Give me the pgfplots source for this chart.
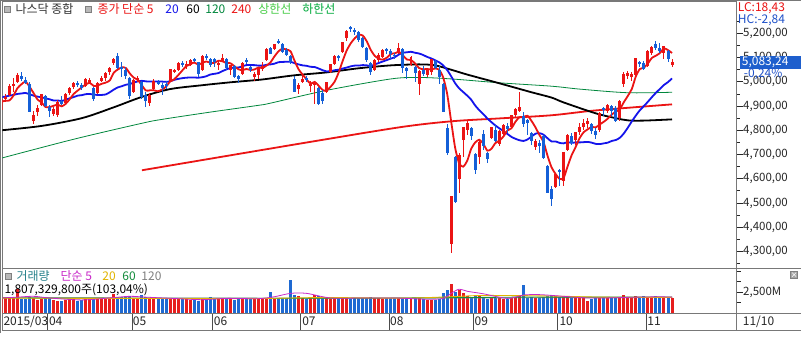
\documentclass[border=0pt]{standalone}
\usepackage{fontspec}
\setmainfont{Noto Sans CJK KR}
\usepackage{pgfplots}
\pgfplotsset{compat=1.18}
\usepackage{pgfplotstable}
\definecolor{cRed}{RGB}{235,20,20}
\definecolor{cBlue}{RGB}{20,95,215}
\definecolor{vRed}{RGB}{230,30,30}
\definecolor{vBlue}{RGB}{30,105,210}
\definecolor{maBlue}{RGB}{20,20,235}
\definecolor{maGreen}{RGB}{0,135,60}
\definecolor{frameGray}{RGB}{120,120,120}
\definecolor{boxBlue}{RGB}{30,95,205}
\definecolor{txtBlue}{RGB}{30,80,200}
\definecolor{legTeal}{RGB}{40,130,140}
\definecolor{legMag}{RGB}{200,40,200}
\definecolor{legYel}{RGB}{225,180,0}
\definecolor{legGreen}{RGB}{20,140,60}
\definecolor{upGreen}{RGB}{70,205,70}
\definecolor{dnGreen}{RGB}{0,170,60}

% i open high low close volume(M)
\pgfplotstableread{
i o h l c v
0 4886 4935 4878 4930 1700
1 4932 4950 4915 4937 1750
2 4948 4990 4940 4983 1820
3 4985 5015 4960 4992 1790
4 5000 5035 4995 5026 2860
8 4840 4880 4825 4863 1800
9 4875 4905 4860 4891 1600
10 4905 4950 4900 4947 1650
13 4870 4895 4860 4887 1550
14 4862 4925 4855 4917 1500
16 4915 4955 4910 4951 1550
17 4955 4980 4945 4975 1600
18 4978 5000 4970 4996 1620
21 4985 5015 4980 5011 1700
22 4998 5015 4990 5008 1750
24 4955 5000 4950 4995 1700
25 5005 5025 5000 5014 1720
26 5015 5040 5005 5035 1800
27 5040 5060 5030 5056 1830
28 5078 5100 5070 5092 2260
33 4960 5010 4955 5005 1700
34 5010 5025 5000 5017 1850
37 4915 4955 4900 4946 1800
38 4970 5010 4965 5004 1750
42 5000 5055 4998 5051 1800
43 5042 5055 5035 5048 1700
44 5050 5080 5045 5078 1650
46 5065 5085 5055 5072 1680
47 5070 5095 5065 5091 1600
50 5050 5110 5045 5107 1700
54 5070 5090 5050 5077 1700
55 5085 5115 5080 5099 1800
57 5050 5070 5030 5068 1700
60 5035 5080 5030 5077 1750
63 5020 5040 5005 5030 1700
64 5030 5060 5010 5056 1750
65 5055 5080 5045 5065 1800
66 5090 5140 5085 5133 1850
68 5135 5155 5130 5154 1700
74 4970 4995 4950 4987 2000
75 5000 5030 4995 5013 1800
77 4985 5005 4960 4992 1850
78 4989 5000 4910 4997 2150
81 4960 5000 4955 4998 1750
82 5040 5075 5035 5072 1700
83 5075 5110 5070 5105 1750
85 5125 5165 5120 5163 1850
86 5180 5215 5170 5210 1900
93 5050 5095 5045 5089 1800
94 5090 5120 5080 5112 1750
95 5105 5135 5100 5129 1700
99 5120 5160 5115 5140 1850
102 5070 5105 5065 5102 1650
104 4990 5050 4945 5044 1850
106 5030 5050 5020 5048 1600
107 5040 5095 5030 5092 1550
112 4330 4530 4292 4526 3450
114 4600 4705 4540 4698 2740
115 4760 4815 4690 4813 2380
116 4800 4840 4780 4828 2050
119 4690 4755 4660 4750 2000
122 4770 4815 4765 4812 1900
124 4745 4800 4735 4796 1750
125 4785 4825 4780 4822 1650
127 4815 4865 4810 4861 1850
128 4862 4890 4850 4889 1900
129 4880 4960 4875 4894 2000
133 4730 4765 4720 4753 1800
138 4565 4625 4560 4620 2050
140 4590 4710 4570 4708 2000
141 4720 4785 4715 4781 1900
143 4760 4795 4740 4791 1900
144 4795 4830 4780 4811 1800
145 4815 4845 4800 4830 1750
146 4825 4850 4810 4839 1500
149 4800 4875 4795 4870 1850
151 4880 4910 4870 4905 1800
154 4850 4925 4840 4920 1900
155 4990 5040 4980 5032 2100
156 5025 5045 5010 5035 1850
157 5020 5040 5005 5030 1900
158 5030 5097 5020 5096 2000
161 5065 5130 5060 5127 1950
162 5120 5150 5110 5145 1900
165 5120 5150 5095 5147 1950
167 5070 5095 5060 5083 1807
}\upT

\pgfplotstableread{
i o h l c v
5 5022 5042 5005 5011 1720
6 5007 5020 4990 4995 1650
7 4990 4998 4875 4877 1950
11 4940 4945 4895 4901 1750
12 4895 4905 4855 4880 1780
15 4920 4940 4905 4910 1480
19 4995 5005 4980 4988 1500
20 4986 4995 4965 4977 1580
23 4975 4978 4921 4932 1850
29 5105 5119 5055 5060 1900
30 5062 5080 5020 5055 1950
31 5050 5060 5010 5024 1900
32 5015 5020 4930 4941 2000
35 5000 5005 4930 4939 2140
36 4945 4960 4895 4920 1950
39 5000 5008 4985 4994 1650
40 4985 4995 4945 4976 1700
41 4990 5005 4970 4982 1750
45 5075 5085 5060 5070 1720
48 5093 5100 5080 5089 1550
49 5080 5082 5020 5033 1500
51 5105 5115 5090 5098 1650
52 5095 5100 5060 5070 1900
53 5092 5100 5060 5083 1750
56 5095 5100 5050 5059 1800
58 5065 5070 5015 5022 1600
59 5025 5030 4995 5014 1650
61 5090 5100 5075 5083 1700
62 5060 5065 5040 5051 1650
67 5140 5145 5115 5117 2500
69 5168 5176 5155 5160 1750
70 5155 5160 5120 5122 1800
71 5130 5140 5105 5112 1750
72 5105 5110 5075 5081 3930
73 5010 5025 4956 4958 2100
76 5015 5025 5000 5009 1650
79 4975 4978 4905 4910 2000
80 4955 4965 4910 4922 1850
84 5105 5110 5085 5099 1800
87 5225 5231 5205 5219 1700
88 5215 5222 5195 5208 1750
89 5205 5210 5165 5172 1800
90 5180 5185 5140 5146 1750
91 5140 5145 5080 5089 1850
92 5075 5080 5030 5040 1900
96 5135 5140 5115 5128 1800
97 5125 5135 5095 5115 1750
98 5112 5120 5095 5106 1800
100 5135 5140 5035 5056 1800
101 5055 5060 5010 5044 1700
103 5060 5065 5000 5037 1750
105 5050 5065 5025 5034 1700
108 5085 5090 5055 5059 1600
109 5050 5065 4990 5019 1700
110 4990 4995 4875 4877 2380
111 4810 4825 4700 4706 2740
113 4690 4695 4500 4506 2500
117 4810 4815 4760 4777 1950
118 4700 4705 4620 4636 2200
120 4785 4800 4720 4734 1850
121 4705 4710 4665 4684 1700
123 4800 4820 4750 4757 1800
126 4815 4830 4790 4806 1700
130 4860 4875 4815 4827 3330
131 4840 4845 4780 4829 1850
132 4790 4795 4740 4757 1900
134 4745 4760 4705 4734 1850
135 4775 4780 4680 4687 1900
136 4650 4655 4540 4544 2000
137 4555 4570 4487 4517 2100
139 4635 4640 4570 4627 1950
142 4775 4790 4740 4748 1850
147 4825 4830 4785 4797 1650
148 4795 4810 4765 4783 1800
150 4890 4895 4860 4887 1900
152 4900 4905 4860 4881 1750
153 4890 4900 4835 4840 1800
159 5080 5085 5060 5074 1950
160 5075 5085 5050 5054 2000
163 5155 5168 5130 5142 2050
164 5140 5160 5120 5128 1850
166 5125 5130 5080 5095 1900
}\downT

\begin{document}
\begin{tikzpicture}[x=1pt,y=1pt]
\fill[white] (0,0) rectangle (801,333);

%================ main price panel =================
\begin{axis}[
  at={(2pt,65pt)}, anchor=south west, scale only axis,
  width=735pt, height=267pt,
  xmin=0.25, xmax=183.1, ymin=4231, ymax=5332,
  axis line style={frameGray, line width=0.8pt},
  xtick=\empty,
  ytick={4300,4400,4500,4600,4700,4800,4900,5000,5100,5200},
  yticklabels={{4,300,00},{4,400,00},{4,500,00},{4,600,00},{4,700,00},{4,800,00},{4,900,00},{5,000,00},{5,100,00},{5,200,00}},
  minor ytick={4250,4350,4450,4550,4650,4750,4850,4950,5050,5150,5250},
  ytick pos=right, yticklabel pos=right,
  tick align=outside, major tick length=6pt, minor tick length=3pt,
  tick style={black!85, line width=0.8pt},
  yticklabel style={font=\fontsize{11.5}{12}\selectfont, text=black!85, anchor=west, xshift=-3pt},
  clip=true,
]
% 240 MA
\addplot[cRed, line width=1.8pt, smooth] coordinates {
(35,4635) (50,4677) (74,4744) (99,4812) (112,4837) (124,4849) (137,4862) (148,4882) (167,4907)};
% 120 MA
\addplot[maGreen, line width=0.8pt, smooth] coordinates {
(0,4685) (18,4763) (35,4829) (40,4845) (52,4875) (64,4903) (67,4912) (81,4965) (97,5012) (104,5018) (112,5012) (124,4996) (137,4982) (144,4970) (156,4955) (167,4957)};
% 60 MA
\addplot[black, line width=1.8pt, smooth] coordinates {
(0,4800) (10,4818) (20,4850) (28,4895) (35,4938) (42,4970) (50,4986) (57,4998) (64,5008) (67,5014) (73,5027) (81,5039) (89,5056) (97,5068) (104,5072) (108,5068) (112,5050) (116,5030) (124,4994) (132,4957) (137,4935) (140,4915) (148,4870) (153,4850) (156,4841) (160,4840) (167,4845)};
% 20 MA
\addplot[maBlue, line width=1.8pt, smooth, tension=0.4] coordinates {
(0,4937) (1,4939) (2,4943) (3,4946) (4,4950) (5,4952) (6,4954) (7,4949) (8,4943) (9,4939)
(10,4936) (11,4932) (12,4928) (13,4923) (14,4923) (15,4921) (16,4926) (17,4932) (18,4937) (19,4943)
(20,4945) (21,4949) (22,4950) (23,4947) (24,4946) (25,4946) (26,4948) (27,4957) (28,4968) (29,4977)
(30,4982) (31,4988) (32,4991) (33,4997) (34,5002) (35,5004) (36,5002) (37,5001) (38,5001) (39,5001)
(40,5001) (41,5000) (42,5002) (43,5008) (44,5012) (45,5015) (46,5017) (47,5018) (48,5018) (49,5017)
(50,5019) (51,5023) (52,5030) (53,5033) (54,5036) (55,5044) (56,5051) (57,5057) (58,5058) (59,5059)
(60,5064) (61,5069) (62,5069) (63,5069) (64,5067) (65,5067) (66,5070) (67,5072) (68,5075) (69,5081)
(70,5082) (71,5083) (72,5083) (73,5077) (74,5072) (75,5068) (76,5066) (77,5062) (78,5061) (79,5055)
(80,5048) (81,5043) (82,5044) (83,5048) (84,5050) (85,5055) (86,5059) (87,5064) (88,5067) (89,5067)
(90,5069) (91,5068) (92,5065) (93,5072) (94,5078) (95,5084) (96,5090) (97,5096) (98,5102) (99,5113)
(100,5120) (101,5122) (102,5124) (103,5120) (104,5117) (105,5111) (106,5103) (107,5097) (108,5089) (109,5081)
(110,5068) (111,5049) (112,5023) (113,4994) (114,4973) (115,4958) (116,4943) (117,4926) (118,4902) (119,4883)
(120,4867) (121,4849) (122,4834) (123,4820) (124,4808) (125,4797) (126,4785) (127,4773) (128,4765) (129,4759)
(130,4756) (131,4762) (132,4774) (133,4786) (134,4788) (135,4782) (136,4767) (137,4754) (138,4754) (139,4748)
(140,4746) (141,4751) (142,4748) (143,4750) (144,4750) (145,4751) (146,4752) (147,4749) (148,4744) (149,4743)
(150,4746) (151,4749) (152,4756) (153,4760) (154,4769) (155,4787) (156,4811) (157,4837) (158,4861) (159,4883)
(160,4900) (161,4918) (162,4937) (163,4955) (164,4971) (165,4987) (166,4999) (167,5014)};
% 5 MA
\addplot[cRed, line width=1.8pt, smooth, tension=0.4] coordinates {
(0,4918) (1,4922) (2,4923) (3,4943) (4,4974) (5,4990) (6,5001) (7,4980) (8,4954) (9,4927)
(10,4915) (11,4896) (12,4896) (13,4901) (14,4906) (15,4899) (16,4909) (17,4928) (18,4950) (19,4964)
(20,4977) (21,4989) (22,4996) (23,4983) (24,4985) (25,4992) (26,4997) (27,5006) (28,5038) (29,5051)
(30,5060) (31,5057) (32,5034) (33,5017) (34,5008) (35,4985) (36,4964) (37,4965) (38,4965) (39,4961)
(40,4968) (41,4980) (42,5001) (43,5010) (44,5027) (45,5046) (46,5064) (47,5072) (48,5080) (49,5071)
(50,5078) (51,5084) (52,5079) (53,5078) (54,5087) (55,5085) (56,5078) (57,5077) (58,5065) (59,5052)
(60,5048) (61,5053) (62,5049) (63,5051) (64,5059) (65,5057) (66,5067) (67,5080) (68,5105) (69,5126)
(70,5137) (71,5133) (72,5126) (73,5087) (74,5052) (75,5030) (76,5010) (77,4992) (78,5000) (79,4984)
(80,4966) (81,4964) (82,4980) (83,5001) (84,5039) (85,5087) (86,5130) (87,5159) (88,5180) (89,5194)
(90,5191) (91,5167) (92,5131) (93,5107) (94,5095) (95,5092) (96,5100) (97,5115) (98,5118) (99,5124)
(100,5109) (101,5092) (102,5090) (103,5076) (104,5057) (105,5052) (106,5053) (107,5051) (108,5055) (109,5050)
(110,5019) (111,4951) (112,4837) (113,4727) (114,4663) (115,4650) (116,4674) (117,4724) (118,4750) (119,4761)
(120,4745) (121,4716) (122,4723) (123,4747) (124,4757) (125,4774) (126,4799) (127,4808) (128,4835) (129,4854)
(130,4855) (131,4860) (132,4839) (133,4812) (134,4780) (135,4752) (136,4695) (137,4647) (138,4620) (139,4599)
(140,4603) (141,4651) (142,4697) (143,4731) (144,4768) (145,4792) (146,4804) (147,4814) (148,4812) (149,4824)
(150,4835) (151,4848) (152,4865) (153,4877) (154,4887) (155,4916) (156,4942) (157,4971) (158,5023) (159,5053)
(160,5058) (161,5076) (162,5099) (163,5108) (164,5119) (165,5138) (166,5131) (167,5119)};
% candles: wicks
\addplot[draw=none, mark=none, forget plot,
  error bars/.cd, y dir=both, y explicit, error mark=none,
  error bar style={draw=cRed, line width=1pt}]
  table[x=i, y expr={(\thisrow{h}+\thisrow{l})/2}, y error expr={(\thisrow{h}-\thisrow{l})/2}] {\upT};
\addplot[draw=none, mark=none, forget plot,
  error bars/.cd, y dir=both, y explicit, error mark=none,
  error bar style={draw=cBlue, line width=1pt}]
  table[x=i, y expr={(\thisrow{h}+\thisrow{l})/2}, y error expr={(\thisrow{h}-\thisrow{l})/2}] {\downT};
% candles: bodies
\addplot[draw=none, mark=none, forget plot,
  error bars/.cd, y dir=both, y explicit, error mark=none,
  error bar style={draw=cRed, line width=3pt}]
  table[x=i, y expr={(\thisrow{o}+\thisrow{c})/2}, y error expr={abs(\thisrow{c}-\thisrow{o})/2+0.8}] {\upT};
\addplot[draw=none, mark=none, forget plot,
  error bars/.cd, y dir=both, y explicit, error mark=none,
  error bar style={draw=cBlue, line width=3pt}]
  table[x=i, y expr={(\thisrow{o}+\thisrow{c})/2}, y error expr={abs(\thisrow{c}-\thisrow{o})/2+0.8}] {\downT};
\end{axis}

%================ volume panel =================
\begin{axis}[
  at={(2pt,20pt)}, anchor=south west, scale only axis,
  width=735pt, height=45pt,
  xmin=0.25, xmax=183.1, ymin=0, ymax=5357,
  axis line style={frameGray, line width=0.8pt},
  xtick=\empty,
  ytick={2500}, yticklabels={{2,500M},{}},
  minor ytick={1250,3750,5000},
  ytick pos=right, yticklabel pos=right,
  tick align=outside, major tick length=6pt, minor tick length=4pt,
  tick style={black!85, line width=0.8pt},
  yticklabel style={font=\fontsize{11.5}{12}\selectfont, text=black!85, anchor=west, xshift=-3pt},
  clip=true,
]
\addplot[ycomb, vRed, line width=3pt, mark=none] table[x=i, y=v] {\upT};
\addplot[ycomb, vBlue, line width=3pt, mark=none] table[x=i, y=v] {\downT};
% volume 120 MA
\addplot[gray, line width=0.7pt, smooth] coordinates {(0,1850) (80,1780) (167,1850)};
% volume 60 MA
\addplot[legGreen, line width=0.9pt, smooth] coordinates {(0,1800) (50,1760) (100,1800) (130,1900) (167,1900)};
% volume 20 MA
\addplot[legYel, line width=0.9pt, smooth] coordinates {(0,1780) (30,1750) (60,1720) (80,1850) (100,1780) (112,1950) (120,2100) (135,2050) (150,1900) (167,1880)};
% volume 5 MA
\addplot[legMag, line width=0.8pt, smooth] coordinates {
(0,1800) (4,1900) (8,2000) (12,1800) (20,1570) (28,1850) (32,2000) (36,1900) (44,1720) (50,1600) (56,1750) (64,1720) (68,1950) (72,2350) (76,2350) (82,1800) (90,1800) (98,1800) (106,1650) (110,1750) (112,2350) (114,2850) (116,2600) (120,2300) (126,1750) (130,2150) (134,2200) (140,2000) (146,1800) (152,1820) (158,1900) (164,1940) (167,1900)};
\end{axis}

%================ date band =================
\begin{axis}[
  at={(2pt,3pt)}, anchor=south west, scale only axis,
  width=735pt, height=17pt,
  xmin=0.25, xmax=183.1, ymin=0, ymax=1,
  axis line style={frameGray, line width=0.8pt},
  xtick={11.5,32.5,52.5,74.5,96.5,117.5,138.5,160.5}, xticklabels={},
  major tick length=0pt, xmajorgrids, grid style={black!70, line width=0.8pt},
  ytick=\empty, clip=false,
]
\end{axis}
\begin{scope}[font=\fontsize{12}{12}\selectfont, text=black!85]
\node[anchor=west, inner sep=0pt] at (3,11.5) {2015/03};
\node[anchor=west, inner sep=0pt] at (48.5,11.5) {04};
\node[anchor=west, inner sep=0pt] at (132.5,11.5) {05};
\node[anchor=west, inner sep=0pt] at (213.5,11.5) {06};
\node[anchor=west, inner sep=0pt] at (302,11.5) {07};
\node[anchor=west, inner sep=0pt] at (390,11.5) {08};
\node[anchor=west, inner sep=0pt] at (474.5,11.5) {09};
\node[anchor=west, inner sep=0pt] at (559.5,11.5) {10};
\node[anchor=west, inner sep=0pt] at (647.5,11.5) {11};
\node[anchor=west, inner sep=0pt] at (743,11.5) {11/10};
\end{scope}

%================ frame lines =================
\draw[frameGray, line width=0.8pt] (0.4,0) -- (0.4,333);
\draw[frameGray, line width=0.8pt] (0,332.6) -- (801,332.6);
\draw[frameGray, line width=0.8pt] (737,65) -- (801,65);
\draw[frameGray, line width=0.8pt] (737,20) -- (801,20);
\draw[frameGray, line width=0.8pt] (737,3) -- (801,3);

%================ top-left legend =================
\begin{scope}[font=\fontsize{12}{12}\selectfont]
\filldraw[fill=gray!55, draw=gray] (4,321) rectangle (10,327);
\node[anchor=west, inner sep=0pt, text=black!80] at (15,324) {나스닥 종합};
\filldraw[fill=gray!55, draw=gray] (85,321) rectangle (91,327);
\node[anchor=west, inner sep=0pt, text=cRed] at (97,324) {종가 단순 5};
\node[anchor=west, inner sep=0pt, text=maBlue] at (165,324) {20};
\node[anchor=west, inner sep=0pt, text=black] at (186,324) {60};
\node[anchor=west, inner sep=0pt, text=maGreen] at (205,324) {120};
\node[anchor=west, inner sep=0pt, text=cRed] at (231,324) {240};
\node[anchor=west, inner sep=0pt, text=upGreen] at (258,324) {상한선};
\node[anchor=west, inner sep=0pt, text=dnGreen] at (302,324) {하한선};
% volume legend
\filldraw[fill=gray!55, draw=gray] (5,54) rectangle (11,60);
\node[anchor=west, inner sep=0pt, text=legTeal] at (16,57) {거래량};
\node[anchor=west, inner sep=0pt, text=legMag] at (60,57) {단순 5};
\node[anchor=west, inner sep=0pt, text=legYel] at (102,57) {20};
\node[anchor=west, inner sep=0pt, text=legGreen] at (122,57) {60};
\node[anchor=west, inner sep=0pt, text=gray] at (141,57) {120};
\node[anchor=west, inner sep=0pt, text=black] at (4,43) {1,807,329,800주(103,04\%)};
\end{scope}

%================ right info =================
\begin{scope}[font=\fontsize{12}{12}\selectfont]
\node[anchor=west, inner sep=0pt, text=cRed] at (738,325.5) {LC:18,43};
\node[anchor=west, inner sep=0pt, text=txtBlue] at (738,313) {HC:-2,84};
\fill[boxBlue] (740,264.5) rectangle (801,277.5);
\node[anchor=west, inner sep=0pt, text=white] at (742,271) {5,083,24};
\node[anchor=west, inner sep=0pt, text=txtBlue] at (744,259.5) {-0,24\%};
\end{scope}
\filldraw[fill=gray!70, draw=gray] (791,55) rectangle (798,62);
\draw[white, line width=0.6pt] (792.5,56.5) -- (796.5,60.5) (792.5,60.5) -- (796.5,56.5);
\end{tikzpicture}
\end{document}
